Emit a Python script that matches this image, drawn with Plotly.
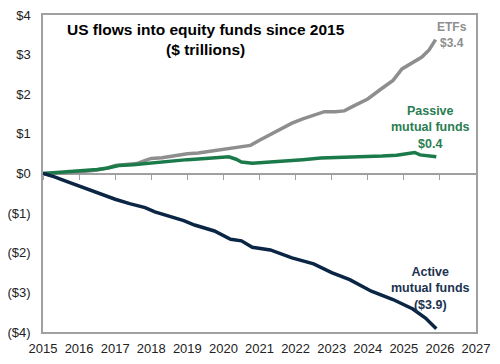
import plotly.graph_objects as go

# ---- data (decimal years, $ trillions) ----
etf_x = [2015.0, 2015.5, 2016.0, 2016.5, 2016.75, 2017.0, 2017.3, 2017.6, 2017.8, 2018.0, 2018.3,
         2018.6, 2019.0, 2019.3, 2019.6, 2020.0, 2020.3, 2020.5, 2020.75, 2021.0, 2021.3, 2021.6,
         2021.9, 2022.2, 2022.5, 2022.8, 2023.1, 2023.35, 2023.6, 2024.0, 2024.35, 2024.7, 2024.95,
         2025.2, 2025.5, 2025.7, 2025.88]
etf_y = [0.0, 0.01, 0.04, 0.09, 0.13, 0.20, 0.23, 0.25, 0.32, 0.38, 0.40,
         0.45, 0.50, 0.52, 0.56, 0.62, 0.66, 0.68, 0.71, 0.84, 0.98, 1.12,
         1.27, 1.38, 1.46, 1.56, 1.56, 1.58, 1.70, 1.88, 2.12, 2.35, 2.64,
         2.78, 2.94, 3.12, 3.38]

passive_x = [2015.0, 2015.5, 2016.0, 2016.5, 2016.8, 2017.1, 2017.5, 2018.0, 2018.4, 2019.0, 2019.5,
             2019.9, 2020.15, 2020.35, 2020.5, 2020.8, 2021.2, 2021.7, 2022.2, 2022.7, 2023.2,
             2023.7, 2024.0, 2024.4, 2024.8, 2025.1, 2025.3, 2025.45, 2025.7, 2025.9]
passive_y = [0.0, 0.03, 0.06, 0.10, 0.14, 0.20, 0.22, 0.27, 0.31, 0.35, 0.38,
             0.40, 0.42, 0.36, 0.29, 0.26, 0.28, 0.31, 0.35, 0.39, 0.40,
             0.42, 0.43, 0.44, 0.46, 0.49, 0.53, 0.47, 0.44, 0.42]

active_x = [2015.0, 2015.3, 2015.65, 2016.0, 2016.33, 2016.7, 2017.0, 2017.4, 2017.83, 2018.1, 2018.4,
            2018.9, 2019.2, 2019.75, 2020.2, 2020.5, 2020.8, 2021.3, 2021.9, 2022.5, 2023.0,
            2023.5, 2024.1, 2024.7, 2025.25, 2025.6, 2025.9]
active_y = [0.0, -0.08, -0.20, -0.32, -0.42, -0.55, -0.65, -0.76, -0.86, -0.97, -1.05,
            -1.19, -1.30, -1.45, -1.66, -1.70, -1.86, -1.93, -2.13, -2.28, -2.50,
            -2.68, -2.97, -3.18, -3.42, -3.65, -3.92]

x_ticks = list(range(2015, 2028))
y_ticks = [4, 3, 2, 1, 0, -1, -2, -3, -4]
y_tick_labels = ["$4", "$3", "$2", "$1", "$0", "($1)", "($2)", "($3)", "($4)"]

GRAY = "#8e8e8e"
GREEN = "#1b7a4a"
NAVY = "#0b2545"
AXIS = "#a0a0a0"
FONT = "Liberation Sans, Arial, sans-serif"

fig = go.Figure()
fig.add_trace(go.Scatter(x=etf_x, y=etf_y, mode="lines", line=dict(color=GRAY, width=3.5), hoverinfo="skip"))
fig.add_trace(go.Scatter(x=passive_x, y=passive_y, mode="lines", line=dict(color=GREEN, width=3.5), hoverinfo="skip"))
fig.add_trace(go.Scatter(x=active_x, y=active_y, mode="lines", line=dict(color=NAVY, width=3.5), hoverinfo="skip"))

fig.update_layout(
    width=500, height=364,
    margin=dict(l=36, r=24, t=8, b=25),
    paper_bgcolor="white", plot_bgcolor="white",
    showlegend=False,
    font=dict(family=FONT, size=13, color="#222222"),
    xaxis=dict(range=[2015, 2027], tickvals=x_ticks, ticktext=[str(v) for v in x_ticks],
               showgrid=False, zeroline=False, showline=True, mirror=True,
               linecolor=AXIS, linewidth=1.5, ticks="", ticklabelstandoff=4,
               tickfont=dict(size=13, color="#222222")),
    xaxis2=dict(range=[2015, 2027], tickvals=x_ticks, overlaying="x", anchor="free", position=0.5,
                showticklabels=False, showgrid=False, zeroline=False, showline=False,
                ticks="outside", ticklen=5, tickcolor=AXIS, tickwidth=1.2),
    yaxis=dict(range=[-4, 4], tickvals=y_ticks, ticktext=y_tick_labels,
               showgrid=False, zeroline=True, zerolinecolor=AXIS, zerolinewidth=1.5,
               showline=True, mirror=True, linecolor=AXIS, linewidth=1.5,
               ticks="", ticklabelstandoff=8, tickfont=dict(size=13, color="#222222")),
)
# invisible trace so the zero-line tick axis is drawn
fig.add_trace(go.Scatter(x=[2015], y=[0], xaxis="x2", mode="markers", marker=dict(opacity=0), hoverinfo="skip"))

fig.add_annotation(x=2019.53, y=3.37, xref="x", yref="y", showarrow=False,
                   text="<b>US flows into equity funds since 2015<br>($ trillions)</b>",
                   font=dict(family=FONT, size=15.5, color="#000000"), align="center")
fig.add_annotation(x=2026.34, y=3.5, xref="x", yref="y", showarrow=False,
                   text="<b>ETFs<br>$3.4</b>", font=dict(family=FONT, size=12, color=GRAY), align="center")
fig.add_annotation(x=2025.75, y=1.17, xref="x", yref="y", showarrow=False,
                   text="<b>Passive<br>mutual funds<br>$0.4</b>", font=dict(family=FONT, size=12.5, color="#2a7d52"),
                   align="center")
fig.add_annotation(x=2025.75, y=-2.9, xref="x", yref="y", showarrow=False,
                   text="<b>Active<br>mutual funds<br>($3.9)</b>", font=dict(family=FONT, size=12.5, color="#1c3350"),
                   align="center")

fig.write_html("out.html", config={"displayModeBar": False},
               post_script="document.body.style.margin='0';document.body.style.overflow='hidden';")
